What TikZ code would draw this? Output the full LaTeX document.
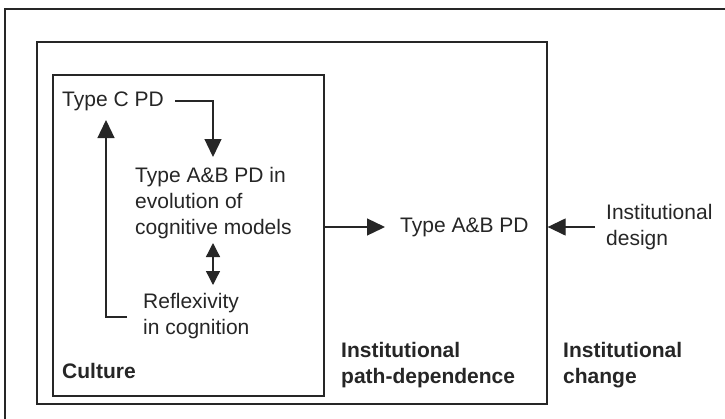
\documentclass[tikz,border=0pt]{standalone}
\usepackage{fontspec}
\setmainfont{Liberation Sans}
\usetikzlibrary{arrows.meta,fit}
\definecolor{ink}{HTML}{262626}
\begin{document}
\begin{tikzpicture}[x=1pt,y=-1pt,
  txt/.style={inner sep=0pt, anchor=west, align=left, text=ink, font=\fontsize{21}{26}\selectfont},
  btxt/.style={txt, font=\fontsize{21}{26}\selectfont\bfseries},
  box/.style={draw=ink, line width=1.3pt, inner sep=0pt},
  conn/.style={draw=ink, line width=1.3pt},
  tip/.style={-{Triangle[length=18pt,width=17pt]}},
  dtip/.style={{Triangle[length=14pt,width=14pt]}-{Triangle[length=14pt,width=14pt]}}]
\useasboundingbox (0,0) rectangle (725,418);
\fill[white] (0,0) rectangle (725,418);
% outer frame (right and bottom edges lie outside the picture)
\draw[ink, line width=1.3pt] (5,440) -- (5,9) -- (750,9);
% boxes
\node[box, fit={(37,42)(547,404)}] (pdbox) {};
\node[box, fit={(53,75)(324,396)}] (culturebox) {};
% texts
\node[txt] (typec) at (62,101) {Type C PD};
\node[txt] (ab) at (135,203) {Type A\&B PD in\\evolution of\\cognitive models};
\node[txt] (refl) at (143,316) {Reflexivity\\in cognition};
\node[btxt] (culture) at (62,371) {Culture};
\node[txt] (abpd) at (400,227) {Type A\&B PD};
\node[txt] (design) at (606,227) {Institutional\\design};
\node[btxt] (ipd) at (341,365) {Institutional\\path-dependence};
\node[btxt] (ichange) at (563,365) {Institutional\\change};
% helper coordinates
\coordinate (c1) at (175,101);
\coordinate (c2) at (213,157);
\coordinate (c3) at (127,317);
\coordinate (c4) at (106,120);
\coordinate (d1) at (213,243);
\coordinate (d2) at (213,285);
\coordinate (e1) at (595,227);
% connectors
\draw[conn, tip] (c1) -| (c2);
\draw[conn, tip] (c3) -| (c4);
\draw[conn, dtip] (d1) -- (d2);
\draw[conn, tip] (culturebox.east |- abpd.west) -- ([xshift=-15pt]abpd.west);
\draw[conn, tip] (e1) -- (pdbox.east |- e1);
\end{tikzpicture}
\end{document}
